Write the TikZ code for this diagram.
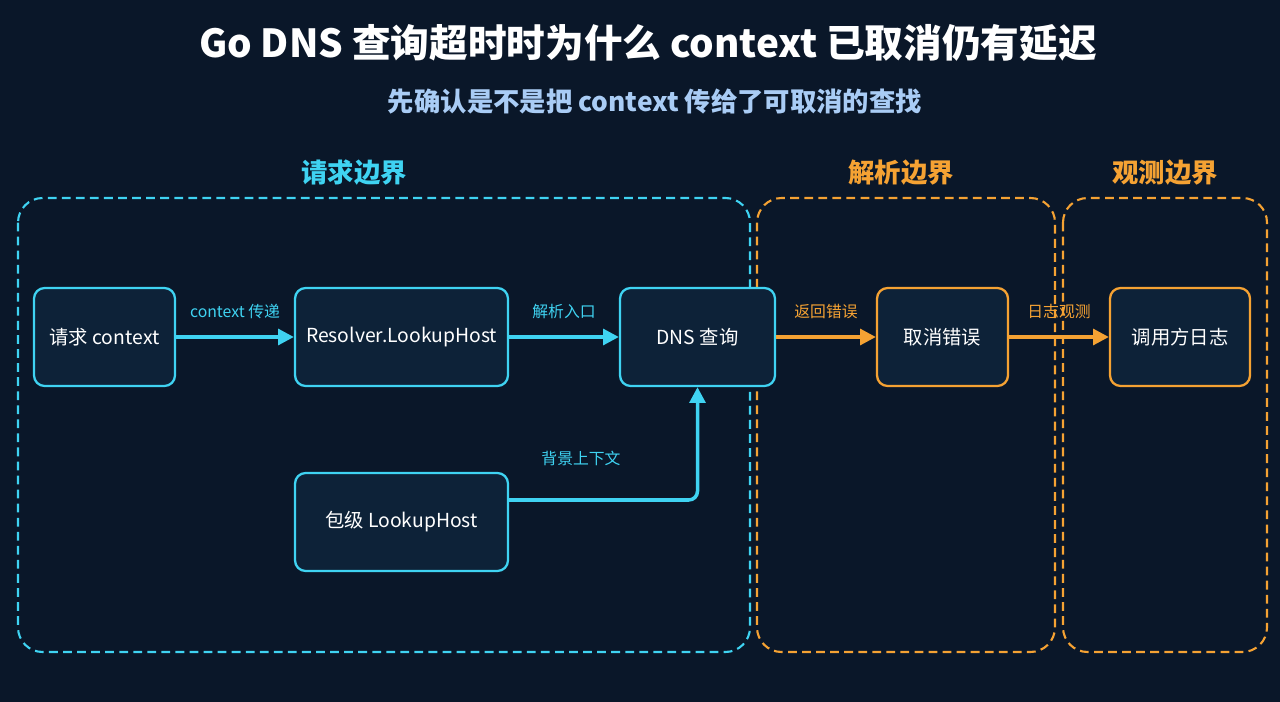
\documentclass[tikz,border=0pt]{standalone}
\usepackage{fontspec}
\setmainfont{Noto Sans CJK SC}
\usetikzlibrary{arrows.meta}
\definecolor{bg}{HTML}{0A1729}
\definecolor{cy}{HTML}{3FD3F2}
\definecolor{org}{HTML}{F5A233}
\definecolor{sub}{HTML}{A9CCF5}
\definecolor{boxf}{HTML}{0D2238}
\begin{document}
\begin{tikzpicture}[x=0.02cm,y=-0.02cm,
  box/.style={draw=#1,line width=1.3pt,rounded corners=6pt,fill=boxf,text=white,font=\fontsize{11}{13}\selectfont,minimum height=1.96cm,inner sep=0pt},
  region/.style={draw=#1,dashed,line width=1.2pt,rounded corners=14pt,dash pattern=on 5pt off 3pt},
  rlab/.style={text=#1,font=\bfseries\fontsize{15}{18}\selectfont},
  arr/.style={draw=#1,line width=2pt,-{Triangle[length=9pt,width=9pt]}},
  alab/.style={text=#1,font=\fontsize{9}{11}\selectfont}]
\fill[bg] (0,0) rectangle (1280,702);
\useasboundingbox (0,0) rectangle (1280,702);
\node[text=white,font=\bfseries\fontsize{22}{26}\selectfont] (title) at (648,43) {Go DNS 查询超时时为什么 context 已取消仍有延迟};
\node[text=sub,font=\bfseries\fontsize{15}{18}\selectfont] (subtitle) at (655,102) {先确认是不是把 context 传给了可取消的查找};
\draw[region=cy] (18,198) rectangle (750,652);
\draw[region=org] (757,198) rectangle (1055,652);
\draw[region=org] (1063,198) rectangle (1267,652);
\node[rlab=cy] (r1) at (354,173) {请求边界};
\node[rlab=org] (r2) at (901,173) {解析边界};
\node[rlab=org] (r3) at (1165,173) {观测边界};
\node[box=cy,minimum width=2.82cm] (req) at (104.5,337) {请求 context};
\node[box=cy,minimum width=4.26cm] (res) at (401.5,337) {Resolver.LookupHost};
\node[box=cy,minimum width=3.1cm] (dns) at (697.5,337) {DNS 查询};
\node[box=org,minimum width=2.62cm] (err) at (942.5,337) {取消错误};
\node[box=org,minimum width=2.8cm] (log) at (1180,337) {调用方日志};
\node[box=cy,minimum width=4.26cm] (pkg) at (401.5,522) {包级 LookupHost};
\draw[arr=cy] (req) -- node[alab=cy,above=6pt] {context 传递} (res);
\draw[arr=cy] (res) -- node[alab=cy,above=6pt] {解析入口} (dns);
\draw[arr=org] (dns) -- node[alab=org,above=6pt] {返回错误} (err);
\draw[arr=org] (err) -- node[alab=org,above=6pt] {日志观测} (log);
\draw[arr=cy,rounded corners=5pt] (pkg.east |- 0,500) -- (697.5,500) -- (dns.south);
\node[alab=cy] (bgl) at (581,458) {背景上下文};
\end{tikzpicture}
\end{document}
